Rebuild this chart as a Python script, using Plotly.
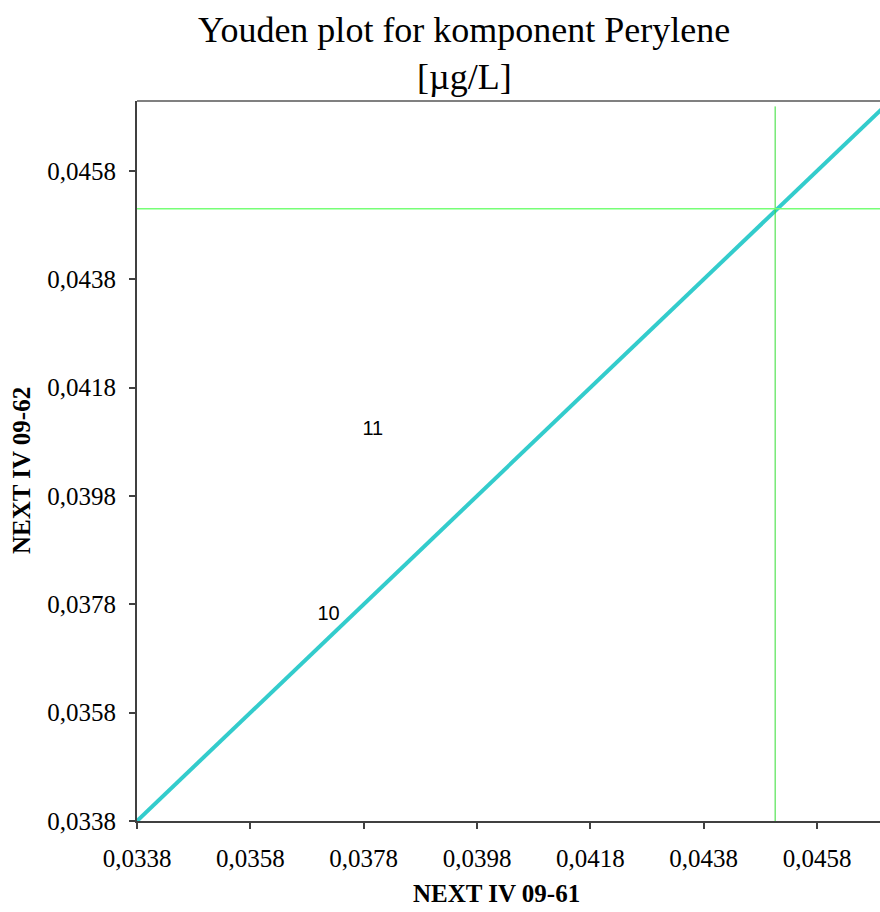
import plotly.graph_objects as go

# Axis settings (µg/L)
axis_min = 0.0338
tick_step = 0.002
x_max = 0.04691
y_max = 0.04709

# Reference (assigned) values for the two samples
ref_x = 0.04506
ref_y = 0.04510

# Laboratory results: sample 09-61 vs sample 09-62
lab_ids = ["10", "11"]
lab_x = [0.03718, 0.03796]
lab_y = [0.03761, 0.04101]

# Diagonal y = x line
diag = [axis_min, 0.0472]

serif = "Liberation Serif, Times New Roman, serif"

fig = go.Figure()

fig.add_trace(go.Scatter(
    x=diag, y=diag, mode="lines",
    line=dict(color="#33CCCC", width=4),
    hoverinfo="skip", showlegend=False,
))

fig.add_trace(go.Scatter(
    x=[ref_x, ref_x], y=[axis_min, 0.04699], mode="lines",
    line=dict(color="#33DD33", width=1),
    hoverinfo="skip", showlegend=False,
))

fig.add_trace(go.Scatter(
    x=[axis_min, 0.0475], y=[ref_y, ref_y], mode="lines",
    line=dict(color="#77FF77", width=1.5),
    hoverinfo="skip", showlegend=False,
))

fig.add_trace(go.Scatter(
    x=lab_x, y=lab_y, mode="text", text=lab_ids,
    textposition="middle center",
    textfont=dict(family="Liberation Sans, Arial, sans-serif", size=20, color="black"),
    showlegend=False,
))

tick_font = dict(family=serif, size=25, color="black")
axis_common = dict(
    tick0=axis_min, dtick=tick_step, tickformat=".4f",
    ticks="outside", ticklen=6, tickwidth=1.5, tickcolor="#404040",
    showline=True, linecolor="#404040", linewidth=2,
    showgrid=False, zeroline=False, tickfont=tick_font,
)

# Plot area in pixels
left, top, bottom_px = 137, 101, 821
plot_w = 880 - left
plot_h = bottom_px - top


def px_x(x):
    return (x - left) / plot_w


def px_y(y):
    return (bottom_px - y) / plot_h


title_font = dict(family=serif, size=36, color="black")
axis_title_font = dict(family=serif, size=25, color="black")

fig.update_layout(
    width=880, height=912,
    margin=dict(l=left, r=0, t=top, b=912 - bottom_px),
    paper_bgcolor="white", plot_bgcolor="white",
    separators=", ",
    xaxis=dict(range=[axis_min, x_max], ticklabelstandoff=8, **axis_common),
    yaxis=dict(range=[axis_min, y_max], ticklabelstandoff=8, **axis_common),
    shapes=[dict(
        type="line", xref="paper", yref="paper", x0=0, x1=1, y0=1, y1=1,
        line=dict(color="#808080", width=2),
    )],
    annotations=[
        dict(text="Youden plot for komponent Perylene", x=px_x(464), y=px_y(30),
             xref="paper", yref="paper", xanchor="center", yanchor="middle",
             showarrow=False, font=title_font),
        dict(text="[µg/L]", x=px_x(464), y=px_y(77),
             xref="paper", yref="paper", xanchor="center", yanchor="middle",
             showarrow=False, font=title_font),
        dict(text="<b>NEXT IV 09-61</b>", x=px_x(496), y=px_y(893),
             xref="paper", yref="paper", xanchor="center", yanchor="middle",
             showarrow=False, font=axis_title_font),
        dict(text="<b>NEXT IV 09-62</b>", textangle=-90, x=px_x(22), y=px_y(470),
             xref="paper", yref="paper", xanchor="center", yanchor="middle",
             showarrow=False, font=axis_title_font),
    ],
)

fig.write_html("out.html")
